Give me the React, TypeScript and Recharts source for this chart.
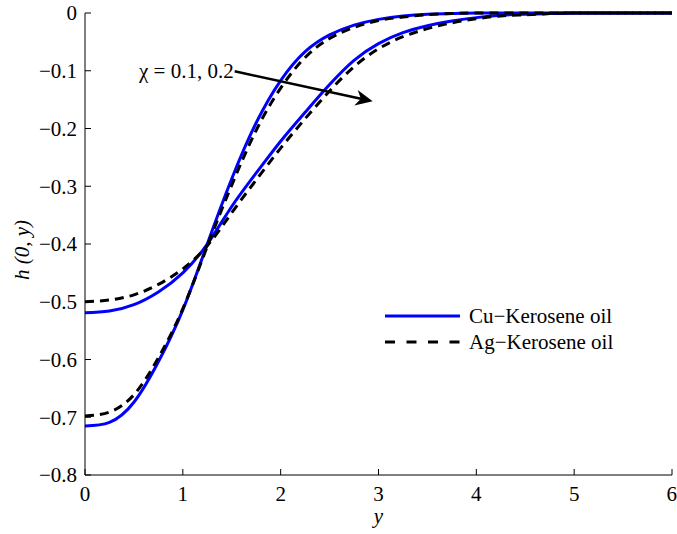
import React from 'react'
import {
  LineChart,
  Line,
  XAxis,
  YAxis,
  ReferenceLine,
  Legend,
  Label,
} from 'recharts'

// y positions (horizontal axis)
const yPos = [
  0, 0.25, 0.5, 0.75, 1, 1.25, 1.5, 1.75, 2, 2.25, 2.5, 2.75, 3, 3.25, 3.5,
  3.75, 4, 4.25, 4.5, 4.75, 5, 5.25, 5.5, 5.75, 6,
]

// chi = 0.1
const cuChi1 = [
  -0.715, -0.709, -0.674, -0.604, -0.514, -0.4, -0.287, -0.19, -0.117, -0.067,
  -0.038, -0.021, -0.011, -0.005, -0.002, -0.001, 0, 0, 0, 0, 0, 0, 0, 0, 0,
]
const agChi1 = [
  -0.698, -0.691, -0.661, -0.597, -0.512, -0.404, -0.298, -0.203, -0.13,
  -0.077, -0.044, -0.025, -0.013, -0.007, -0.003, -0.001, 0, 0, 0, 0, 0, 0, 0,
  0, 0,
]

// chi = 0.2
const cuChi2 = [
  -0.519, -0.516, -0.505, -0.483, -0.45, -0.4, -0.335, -0.277, -0.222, -0.172,
  -0.124, -0.082, -0.053, -0.034, -0.022, -0.014, -0.008, -0.004, -0.002,
  -0.001, 0, 0, 0, 0, 0,
]
const agChi2 = [
  -0.5, -0.497, -0.488, -0.47, -0.443, -0.403, -0.346, -0.289, -0.234, -0.183,
  -0.135, -0.093, -0.062, -0.041, -0.027, -0.017, -0.01, -0.005, -0.003,
  -0.001, 0, 0, 0, 0, 0,
]

const xTicks = [0, 1, 2, 3, 4, 5, 6]
const hTicks = [-0.8, -0.7, -0.6, -0.5, -0.4, -0.3, -0.2, -0.1, 0]

const data = yPos.map((y, i) => ({
  y,
  cu1: cuChi1[i],
  ag1: agChi1[i],
  cu2: cuChi2[i],
  ag2: agChi2[i],
}))

const FONT = '"Liberation Serif", "DejaVu Serif", serif'
const BLUE = '#0000ff'
const DASH = '9 6'
const CU_NAME = 'Cu\u2212Kerosene oil'
const AG_NAME = 'Ag\u2212Kerosene oil'

const textStyle = { fontFamily: FONT, fontSize: 21, fill: '#000' }

const fmtH = (v: number) =>
  v === 0 ? '0' : '\u2212' + Math.abs(v).toFixed(1)

function Arrow(props: any) {
  const { x1, y1, x2, y2 } = props
  const len = Math.hypot(x2 - x1, y2 - y1)
  const ux = (x2 - x1) / len
  const uy = (y2 - y1) / len
  const px = -uy
  const py = ux
  const L = 17
  const W = 8
  const N = 12
  const pts = [
    [x2, y2],
    [x2 - ux * L + px * W, y2 - uy * L + py * W],
    [x2 - ux * N, y2 - uy * N],
    [x2 - ux * L - px * W, y2 - uy * L - py * W],
  ]
    .map((p) => p.join(','))
    .join(' ')
  return (
    <g>
      <line
        x1={x1}
        y1={y1}
        x2={x2 - ux * N}
        y2={y2 - uy * N}
        stroke="#000"
        strokeWidth={2.5}
      />
      <polygon points={pts} fill="#000" />
      <text x={x1 - 1} y={y1 + 7} textAnchor="end" style={textStyle}>
        χ = 0.1, 0.2
      </text>
    </g>
  )
}

function LegendBox({ payload }: any) {
  const items = (payload || [])
    .filter((p: any) => p.type !== 'none')
    .sort((a: any, b: any) => (a.value === CU_NAME ? -1 : b.value === CU_NAME ? 1 : 0))
  return (
    <div style={{ fontFamily: FONT, fontSize: 21, color: '#000' }}>
      {items.map((p: any) => {
        const dashed = p.value === AG_NAME
        return (
          <div
            key={p.value}
            style={{ display: 'flex', alignItems: 'center', height: 26 }}
          >
            <svg width={86} height={10}>
              <line
                x1={2}
                y1={5}
                x2={77}
                y2={5}
                stroke={dashed ? '#000' : BLUE}
                strokeWidth={3}
                strokeDasharray={dashed ? '10 11.5' : undefined}
              />
            </svg>
            <span>{p.value}</span>
          </div>
        )
      })}
    </div>
  )
}

export default function App() {
  return (
    <div style={{ position: 'absolute', left: 0, top: 0, background: '#fff' }}>
      <LineChart
        width={677}
        height={534}
        data={data}
        margin={{ top: 13, right: 5, bottom: 0, left: 0 }}
      >
        <XAxis
          dataKey="y"
          type="number"
          domain={[0, 6]}
          ticks={xTicks}
          height={59}
          tickSize={-6}
          tickMargin={17}
          stroke="#000"
          tick={{ style: textStyle }}
        >
          <Label
            value="y"
            position="insideBottom"
            offset={11}
            style={{ ...textStyle, fontStyle: 'italic' }}
          />
        </XAxis>
        <XAxis
          xAxisId="top"
          orientation="top"
          type="number"
          domain={[0, 6]}
          ticks={xTicks}
          height={0}
          tickSize={-6}
          tickFormatter={() => ''}
          stroke="#000"
        />
        <YAxis
          type="number"
          domain={[-0.8, 0]}
          ticks={hTicks}
          width={85}
          tickSize={-6}
          tickMargin={14}
          tickFormatter={fmtH}
          stroke="#000"
          tick={{ style: textStyle }}
        >
          <Label
            content={({ viewBox }: any) => {
              const cx = 22
              const cy = (viewBox?.y ?? 13) + (viewBox?.height ?? 462) / 2 + 6
              return (
                <text
                  x={cx}
                  y={cy}
                  transform={`rotate(-90 ${cx} ${cy})`}
                  textAnchor="middle"
                  dominantBaseline="central"
                  style={{ ...textStyle, fontStyle: 'italic' }}
                >
                  h (0, y)
                </text>
              )
            }}
          />
        </YAxis>
        <YAxis
          yAxisId="right"
          orientation="right"
          type="number"
          domain={[-0.8, 0]}
          ticks={hTicks}
          width={0}
          tickSize={-6}
          tickFormatter={() => ''}
          stroke="#000"
        />
        <Legend
          layout="horizontal"
          verticalAlign="middle"
          align="center"
          content={<LegendBox />}
          wrapperStyle={{ left: 383, top: 303, width: 'auto' }}
        />
        <Line
          dataKey="cu1"
          name={CU_NAME}
          type="natural"
          stroke={BLUE}
          strokeWidth={3}
          dot={false}
          isAnimationActive={false}
        />
        <Line
          dataKey="cu2"
          name="cu2"
          legendType="none"
          type="natural"
          stroke={BLUE}
          strokeWidth={3}
          dot={false}
          isAnimationActive={false}
        />
        <Line
          dataKey="ag1"
          name={AG_NAME}
          type="natural"
          stroke="#000"
          strokeWidth={3}
          strokeDasharray={DASH}
          dot={false}
          isAnimationActive={false}
        />
        <Line
          dataKey="ag2"
          name="ag2"
          legendType="none"
          type="natural"
          stroke="#000"
          strokeWidth={3}
          strokeDasharray={DASH}
          dot={false}
          isAnimationActive={false}
        />
        <ReferenceLine
          segment={[
            { x: 1.53, y: -0.101 },
            { x: 2.94, y: -0.153 },
          ]}
          shape={<Arrow />}
        />
      </LineChart>
    </div>
  )
}
